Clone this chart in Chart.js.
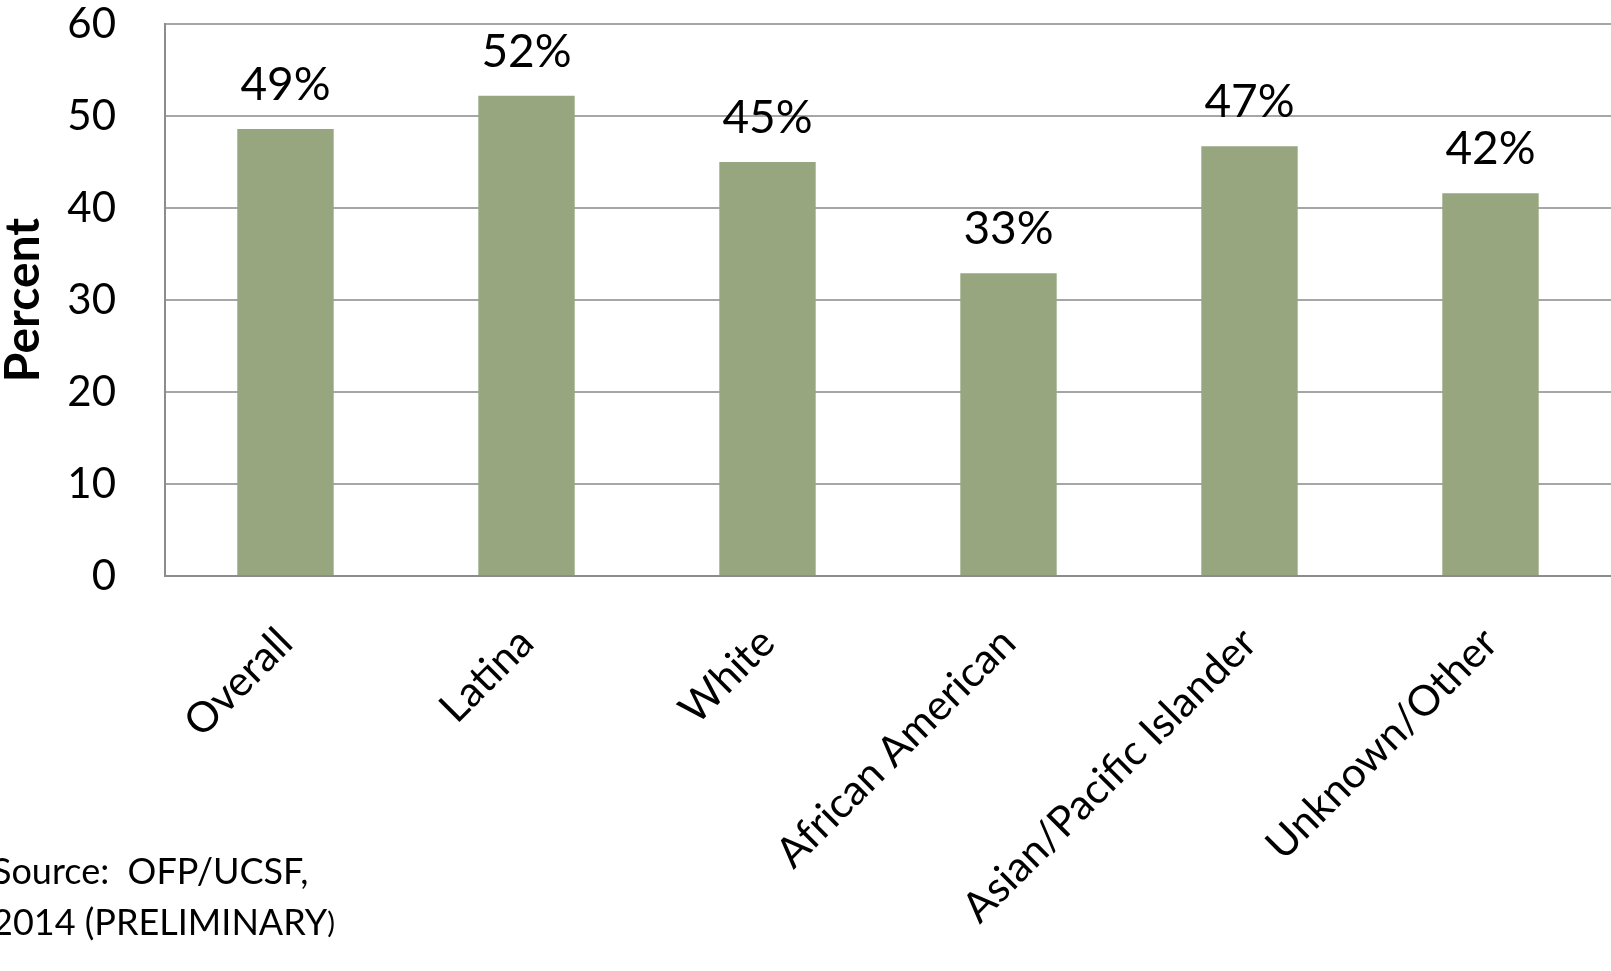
<!DOCTYPE html>
<html>
<head>
<meta charset="utf-8">
<script src="https://cdn.jsdelivr.net/npm/chart.js@4/dist/chart.umd.min.js"></script>
<style>
  html, body { margin: 0; padding: 0; background: #fff; }
  #wrap { width: 1611px; height: 971px; position: relative; }
</style>
</head>
<body>
<div id="wrap"><canvas id="chart"></canvas></div>
<script>
// Chart data
const categories = ['Overall', 'Latina', 'White', 'African American', 'Asian/Pacific Islander', 'Unknown/Other'];
const percentValues = [48.6, 52.2, 45.0, 32.9, 46.7, 41.6];
const barLabels = ['49%', '52%', '45%', '33%', '47%', '42%'];
const yTicks = [0, 10, 20, 30, 40, 50, 60];

const FONT = 'Lato, Calibri, "Open Sans", sans-serif';

// Draw the percent labels above each bar
const barLabelPlugin = {
  id: 'barLabels',
  afterDatasetsDraw: function (chart) {
    const ctx = chart.ctx;
    const meta = chart.getDatasetMeta(0);
    ctx.save();
    ctx.font = '46px ' + FONT;
    ctx.fillStyle = '#000';
    ctx.textAlign = 'center';
    ctx.textBaseline = 'alphabetic';
    meta.data.forEach(function (bar, i) {
      ctx.fillText(barLabels[i], bar.x, bar.y - 29);
    });
    ctx.restore();
  }
};

// Source note, bottom left
const sourcePlugin = {
  id: 'sourceNote',
  afterDraw: function (chart) {
    const ctx = chart.ctx;
    ctx.save();
    ctx.fillStyle = '#000';
    ctx.textAlign = 'left';
    ctx.textBaseline = 'alphabetic';
    ctx.font = '36px ' + FONT;
    ctx.fillText('Source:  OFP/UCSF,', -8, 884);
    const line2 = '2014 (PRELIMINARY';
    ctx.fillText(line2, -8, 935);
    const w = ctx.measureText(line2).width;
    ctx.font = '29px ' + FONT;
    ctx.fillText(')', -8 + w, 933);
    ctx.restore();
  }
};

new Chart(document.getElementById('chart'), {
  type: 'bar',
  data: {
    labels: categories,
    datasets: [{
      label: 'Percent',
      data: percentValues,
      backgroundColor: '#97a67e',
      borderWidth: 0,
      barPercentage: 0.4,
      categoryPercentage: 1.0
    }]
  },
  options: {
    responsive: true,
    maintainAspectRatio: false,
    animation: false,
    layout: {
      padding: { top: 0, right: 0, bottom: 0, left: 0 }
    },
    plugins: {
      legend: { display: false },
      tooltip: { enabled: false }
    },
    scales: {
      x: {
        grid: { display: false, drawTicks: false },
        border: { display: true, color: '#8c8c8c', width: 2 },
        ticks: {
          color: '#000',
          font: { family: FONT, size: 42 },
          minRotation: 45,
          maxRotation: 45,
          padding: 42,
          autoSkip: false
        },
        afterFit: function (scale) {
          scale.height = 395;
        }
      },
      y: {
        min: 0,
        max: 60,
        afterBuildTicks: function (scale) {
          scale.ticks = yTicks.map(function (v) { return { value: v }; });
        },
        // invisible tick marks push the labels away from the axis line
        grid: { color: '#a6a6a6', lineWidth: 2, drawTicks: true, tickLength: 46, tickColor: 'rgba(0,0,0,0)' },
        border: { display: true, color: '#8c8c8c', width: 2 },
        ticks: {
          color: '#000',
          font: { family: FONT, size: 42, lineHeight: 1.0 },
          padding: 3
        },
        title: {
          display: true,
          text: 'Percent',
          color: '#000',
          font: { family: FONT, size: 48, weight: 'bold', lineHeight: 1.0 },
          padding: { top: 0, bottom: 0 }
        },
        afterFit: function (scale) {
          scale.width = 165;
        }
      }
    }
  },
  plugins: [barLabelPlugin, sourcePlugin]
});
</script>
</body>
</html>
